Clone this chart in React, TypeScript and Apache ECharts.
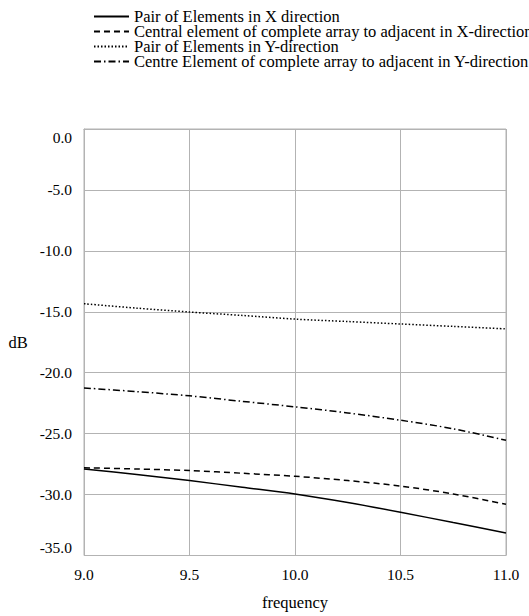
import React, { useEffect, useRef } from "react";
import * as echarts from "echarts";

const frequency = [9.0, 9.25, 9.5, 9.75, 10.0, 10.25, 10.5, 10.75, 11.0];
const pairX = [-27.9, -28.35, -28.85, -29.4, -29.95, -30.65, -31.45, -32.3, -33.15];
const centralX = [-27.8, -27.9, -28.03, -28.25, -28.5, -28.85, -29.3, -29.95, -30.8];
const pairY = [-14.34, -14.7, -15.02, -15.3, -15.6, -15.8, -16.0, -16.2, -16.4];
const centreY = [-21.25, -21.55, -21.9, -22.35, -22.8, -23.3, -23.9, -24.6, -25.55];

const seriesNames = [
  "Pair of Elements in X direction",
  "Central element of complete array to adjacent in X-direction",
  "Pair of Elements in Y-direction",
  "Centre Element of complete array to adjacent in Y-direction",
];

const FONT = "serif";

export default function App() {
  const ref = useRef<HTMLDivElement>(null);
  useEffect(() => {
    if (!ref.current) return;
    const chart = echarts.init(ref.current, undefined, { renderer: "svg" });
    const mk = (vals: number[]) => frequency.map((f, i) => [f, vals[i]]);
    const styles: any[] = [
      { type: "solid", width: 1.5 },
      { type: [6, 4], width: 1.5 },
      { type: [1.5, 2], width: 1.5 },
      { type: [7, 3, 1.5, 3], width: 1.5 },
    ];
    const data = [pairX, centralX, pairY, centreY];
    const lbl = { fontFamily: FONT, fontSize: 15.5, color: "#000", fontWeight: "normal" };
    chart.setOption({
      animation: false,
      backgroundColor: "#ffffff",
      textStyle: { fontFamily: FONT, color: "#000" },
      legend: {
        orient: "vertical",
        left: 93,
        top: 8,
        padding: 0,
        itemWidth: 35,
        itemHeight: 14,
        itemGap: -2,
        itemStyle: { opacity: 0 },
        textStyle: { fontFamily: FONT, fontSize: 16.5, color: "#000" },
        data: seriesNames,
      },
      grid: {
        left: 84,
        right: 23,
        top: 129,
        bottom: 60,
        show: true,
        borderColor: "#b3b3b3",
        borderWidth: 1,
      },
      xAxis: {
        type: "value",
        min: 9,
        max: 11,
        interval: 0.5,
        name: "frequency",
        nameLocation: "middle",
        nameGap: 47,
        nameTextStyle: { fontFamily: FONT, fontSize: 16.5, color: "#000", verticalAlign: "middle" },
        axisLine: { lineStyle: { color: "#b3b3b3" } },
        axisTick: { show: false },
        axisLabel: {
          textStyle: lbl,
          ...lbl,
          margin: 11,
          formatter: (v: number) => v.toFixed(1),
        },
        splitLine: { show: true, lineStyle: { color: "#b3b3b3" } },
      },
      yAxis: {
        type: "value",
        min: -35,
        max: 0,
        interval: 5,
        name: "dB",
        nameLocation: "middle",
        nameRotate: 0,
        nameGap: 66,
        nameTextStyle: { fontFamily: FONT, fontSize: 16.5, color: "#000", align: "center", verticalAlign: "middle" },
        axisLine: { show: true, lineStyle: { color: "#b3b3b3" } },
        axisTick: { show: false },
        axisLabel: {
          textStyle: lbl,
          ...lbl,
          margin: 12,
          verticalAlignMinLabel: "bottom",
          verticalAlignMaxLabel: "top",
          formatter: (v: number) => v.toFixed(1),
        },
        splitLine: { show: true, lineStyle: { color: "#b3b3b3" } },
      },
      series: seriesNames.map((name, i) => ({
        name,
        type: "line",
        data: mk(data[i]),
        smooth: 0.3,
        symbol: "none",
        color: "#000",
        lineStyle: { color: "#000", ...styles[i] },
      })),
    });
    return () => chart.dispose();
  }, []);
  return <div ref={ref} style={{ width: 529, height: 616, position: "absolute", left: 0, top: 0 }} />;
}
